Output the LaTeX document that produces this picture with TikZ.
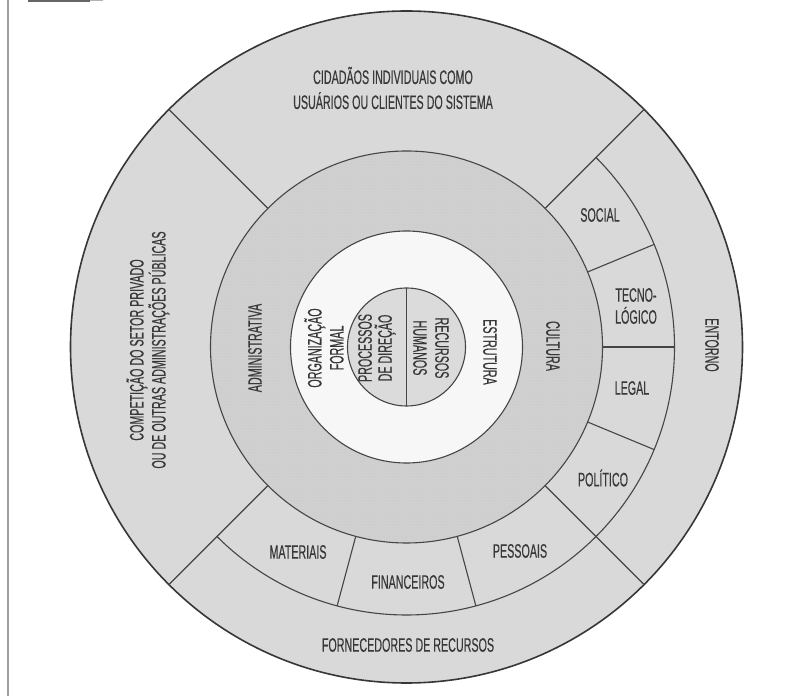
\documentclass[tikz,border=0pt]{standalone}
\usepackage{fontspec}
\newfontfamily\condfont{Liberation Sans}[FakeStretch=0.55, FakeBold=0.35]
\usetikzlibrary{patterns}
\definecolor{band}{HTML}{D9D9D9}
\definecolor{ringc}{HTML}{D0D0D0}
\definecolor{corec}{HTML}{DBDBDB}
\definecolor{diskc}{HTML}{F7F7F7}
\definecolor{lnc}{HTML}{454545}
\definecolor{txt}{HTML}{383838}
\begin{document}
\begin{tikzpicture}[x=1pt,y=1pt,
  lbl/.style={font=\condfont\fontsize{19.5}{22}\selectfont, text=txt, inner sep=0pt, align=center},
  ln/.style={draw=lnc, line width=1.1pt},
  outerln/.style={draw=lnc!80!black, line width=1.6pt}]
\useasboundingbox (0,0) rectangle (796,696);
\fill[white] (0,0) rectangle (796,696);
% frame remnants
\draw[gray!75, line width=1.3pt] (8,0) -- (8,696);
\draw[gray!80!black, line width=2pt] (28,695) -- (90,695);
\draw[gray!60, line width=1pt] (90,695.5) -- (103,695.5);
\coordinate (O) at (406.5,349);
% fills
\fill[band] (O) circle[radius=336];
\fill[ringc] (O) circle[radius=196];
\fill[pattern=dots, pattern color=gray!45] (O) circle[radius=196];
\fill[diskc] (O) circle[radius=116];
\fill[corec] (O) circle[radius=59];
% circles
\draw[outerln] (O) circle[radius=336];
\draw[ln] (O) circle[radius=196];
\draw[ln] (O) circle[radius=116];
\draw[ln] (O) circle[radius=59];
\draw[ln] ([shift={(45:268)}]O) arc[start angle=45, end angle=-135, radius=268];
% radial lines
\foreach \a in {45,135,-135,-45}
  \draw[ln] ([shift={(\a:196)}]O) -- ([shift={(\a:336)}]O);
\foreach \a in {22.5,0,-22.5,-105,-75}
  \draw[ln] ([shift={(\a:196)}]O) -- ([shift={(\a:268)}]O);
\draw[ln] ([shift={(90:59)}]O) -- ([shift={(-90:59)}]O);
% labels
\node[lbl, font=\condfont\fontsize{19.5}{25}\selectfont] (cid) at (393,608) {CIDADÃOS INDIVIDUAIS COMO\\USUÁRIOS OU CLIENTES DO SISTEMA};
\node[lbl, rotate=90] (comp) at (148,346) {COMPETIÇÃO DO SETOR PRIVADO\\OU DE OUTRAS ADMINISTRAÇÕES PÚBLICAS};
\node[lbl, rotate=90] (adm) at (255,348) {ADMINISTRATIVA};
\node[lbl, rotate=90] (org) at (324,348) {ORGANIZAÇÃO\\FORMAL};
\node[lbl, rotate=90, font=\condfont\fontsize{19.5}{20}\selectfont] (proc) at (377,348) {PROCESSOS\\DE DIREÇÃO};
\node[lbl, rotate=-90] (rec) at (431,348) {RECURSOS\\HUMANOS};
\node[lbl, rotate=-90] (est) at (490,344) {ESTRUTURA};
\node[lbl, rotate=-90] (cul) at (553,350) {CULTURA};
\node[lbl, rotate=-90] (ent) at (712,351) {ENTORNO};
\node[lbl] (soc) at (600,481) {SOCIAL};
\node[lbl] (tec) at (636,390) {TECNO-\\LÓGICO};
\node[lbl] (leg) at (632,308) {LEGAL};
\node[lbl] (pol) at (603,218) {POLÍTICO};
\node[lbl] (mat) at (298,144) {MATERIAIS};
\node[lbl] (fin) at (408,114) {FINANCEIROS};
\node[lbl] (pes) at (520,145) {PESSOAIS};
\node[lbl] (forn) at (408,51) {FORNECEDORES DE RECURSOS};
\end{tikzpicture}
\end{document}
